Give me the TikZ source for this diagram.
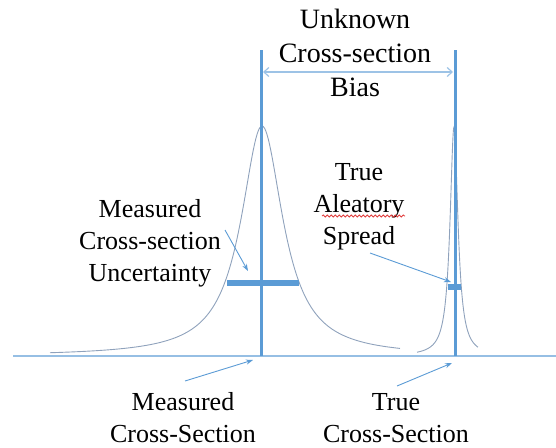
\documentclass[tikz,border=0pt]{standalone}
\usepackage{fontspec}
\setmainfont{Liberation Serif}
\usetikzlibrary{arrows.meta,decorations.pathmorphing}
\definecolor{mainblue}{HTML}{5B9BD5}
\definecolor{lightblue}{HTML}{9DC3E6}
\definecolor{curvecol}{HTML}{8FA2BC}
\definecolor{squigred}{HTML}{E03C3C}
\begin{document}
\begin{tikzpicture}[x=1pt,y=-1pt,
  lbl/.style={align=center,inner sep=0pt,text=black,font=\fontsize{26}{32}\selectfont},
  ttl/.style={align=center,inner sep=0pt,text=black,font=\fontsize{28}{34}\selectfont},
  axisline/.style={lightblue!90!mainblue,line width=1.2pt},
  markline/.style={mainblue,line width=3pt},
  barline/.style={mainblue,line width=6pt},
  curve/.style={curvecol,line width=0.9pt},
  pointer/.style={mainblue,line width=0.9pt,-{Stealth[length=7pt,width=5pt]}},
  biasarrow/.style={lightblue,line width=1.2pt,{Straight Barb[length=5pt,width=9pt]}-{Straight Barb[length=5pt,width=9pt]}}]
\useasboundingbox (0,0) rectangle (556,447);
% axis
\coordinate (axL) at (13,356);
\coordinate (axR) at (556,356);
\draw[axisline] (axL) -- (axR);
% curves
\draw[curve] plot[domain=50:400,samples=351,smooth] (\x,{356-230/(1+((\x-262)/25.5)^2)});
\draw[curve] plot[domain=417:478,samples=245,smooth] (\x,{356-229/(1+((\x-454)/4.8)^2)});
% vertical lines
\coordinate (mTop) at (261,50);
\coordinate (mBot) at (261,356);
\coordinate (tTop) at (455,50);
\coordinate (tBot) at (455,356);
\draw[markline] (mTop) -- (mBot);
\draw[markline] (tTop) -- (tBot);
% bars
\coordinate (mbL) at (227,283);
\coordinate (mbR) at (299,283);
\coordinate (tbL) at (448,287);
\coordinate (tbR) at (461,287);
\draw[barline] (mbL) -- (mbR);
\draw[barline] (tbL) -- (tbR);
% bias arrow
\coordinate (bL) at (263,72);
\coordinate (bR) at (453,72);
\draw[biasarrow] (bL) -- (bR);
% texts
\node[ttl] (bias) at (355,53) {Unknown\\Cross-section\\Bias};
\node[lbl] (unc) at (150,243) {Measured\\Cross-section\\Uncertainty};
\node[lbl] (alea) at (359,206.5) {True\\Aleatory\\Spread};
\node[lbl] (meas) at (183,418) {Measured\\Cross-Section};
\node[lbl] (true) at (396,418) {True\\Cross-Section};
% squiggly underline
\draw[squigred,line width=0.8pt,decorate,decoration={snake,amplitude=1pt,segment length=4pt}] (322,216) -- (405,216);
% pointers
\coordinate (uA) at (225,230);
\coordinate (uB) at (248,271);
\coordinate (aA) at (370,253);
\coordinate (aB) at (451,282);
\coordinate (mA) at (185,381);
\coordinate (mB) at (253,360);
\coordinate (tA) at (397,386);
\coordinate (tB) at (452,363);
\draw[pointer] (uA) -- (uB);
\draw[pointer] (aA) -- (aB);
\draw[pointer] (mA) -- (mB);
\draw[pointer] (tA) -- (tB);
\end{tikzpicture}
\end{document}
